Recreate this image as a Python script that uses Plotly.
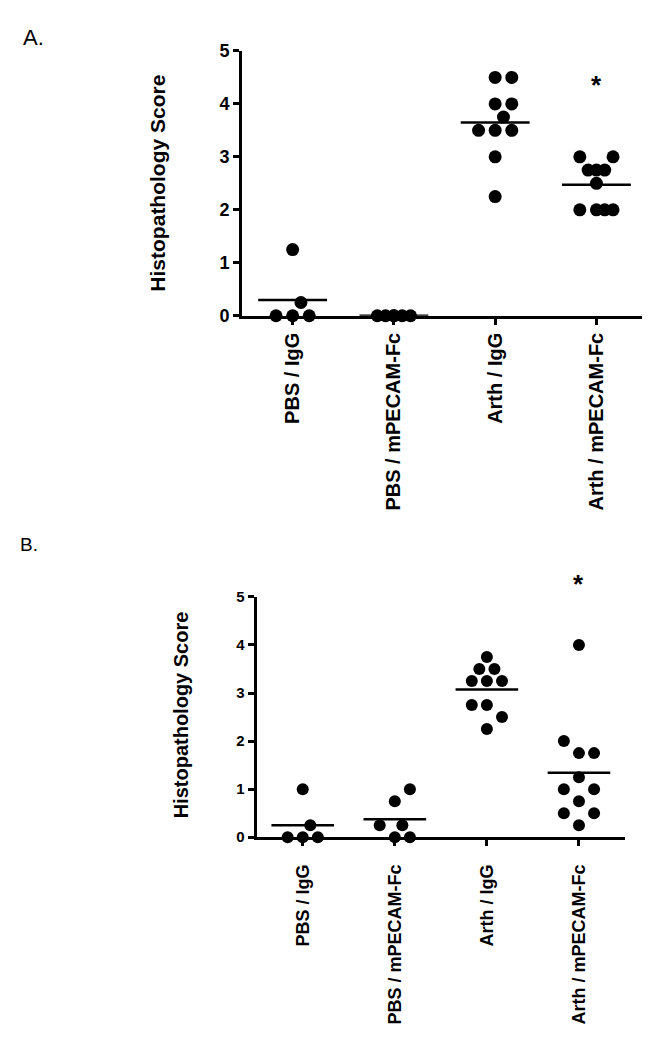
import numpy as np
import plotly.graph_objects as go

W, H = 663, 1050

groups = ["PBS / IgG", "PBS / mPECAM-Fc", "Arth / IgG", "Arth / mPECAM-Fc"]

# panel A scores
a_pbs_igg = [0, 0, 0, 0.25, 1.25]
a_pbs_pecam = [0, 0, 0, 0, 0, 0]
a_arth_igg = [2.25, 3.0, 3.5, 3.5, 3.5, 3.75, 4.0, 4.0, 4.5, 4.5]
a_arth_pecam = [2.0, 2.0, 2.0, 2.0, 2.5, 2.75, 2.75, 2.75, 3.0, 3.0]

# panel B scores
b_pbs_igg = [0, 0, 0, 0.25, 1.0]
b_pbs_pecam = [0, 0, 0.25, 0.25, 0.75, 1.0]
b_arth_igg = [2.25, 2.5, 2.75, 2.75, 3.25, 3.25, 3.25, 3.5, 3.5, 3.75]
b_arth_pecam = [0.25, 0.5, 0.5, 0.75, 1.0, 1.0, 1.25, 1.75, 1.75, 2.0, 4.0]

y_ticks = [0, 1, 2, 3, 4, 5]
star_a = 4.35

FONT = "Liberation Sans, Arial, sans-serif"


def px_box(x0, x1, y_top, y_bot):
    # pixel box -> paper domains
    return [x0 / W, x1 / W], [1 - y_bot / H, 1 - y_top / H]


def swarm(values, ppx, ppy, slot=0.082, dmin=14.5, kmax=2):
    # greedy dot placement, Prism-like
    order = [0]
    for k in range(1, kmax + 1):
        order += [k, -k]
    placed = []
    offs = []
    for v in values:
        best, best_d = order[0], -1.0
        for k in order:
            dx = k * slot * ppx
            d = min((np.hypot(dx - qx, (v - qv) * ppy) for qx, qv in placed), default=np.inf)
            if d >= dmin:
                best = k
                break
            if d > best_d:
                best_d, best = d, k
        placed.append((best * slot * ppx, v))
        offs.append(best * slot)
    return offs


fig = go.Figure()

panels = [
    dict(data=[a_pbs_igg, a_pbs_pecam, a_arth_igg, a_arth_pecam],
         box=(242, 642, 41.7, 311.7), xr=[-0.5, 3.45], xa="x", ya="y",
         tick=18, cat=20, standoff=0, dot=13),
    dict(data=[b_pbs_igg, b_pbs_pecam, b_arth_igg, b_arth_pecam],
         box=(256.7, 625, 598.3, 843.3), xr=[-0.5, 3.5], xa="x2", ya="y2",
         tick=15, cat=18, standoff=11, dot=12),
]

for i, p in enumerate(panels):
    x0, x1, yt, yb = p["box"]
    ppx = (x1 - x0) / (p["xr"][1] - p["xr"][0])
    ppy = (yb - yt) / 5.0
    for g, vals in enumerate(p["data"]):
        offs = swarm(vals, ppx, ppy)
        fig.add_trace(go.Scatter(
            x=[g + o for o in offs], y=vals, mode="markers",
            marker=dict(color="black", size=p["dot"], line=dict(width=0)),
            cliponaxis=False, xaxis=p["xa"], yaxis=p["ya"], hoverinfo="y"))
        m = float(np.mean(vals))
        fig.add_trace(go.Scatter(
            x=[g - 0.34, g + 0.34], y=[m, m], mode="lines",
            line=dict(color="black", width=2.5),
            cliponaxis=False, xaxis=p["xa"], yaxis=p["ya"], hoverinfo="skip"))

    xd, yd = px_box(x0, x1, yt, yb)
    sfx = "" if i == 0 else "2"
    fig.update_layout(**{
        "xaxis" + sfx: dict(
            domain=xd, range=p["xr"], anchor="y" + sfx,
            tickvals=list(range(len(groups))), ticktext=groups, tickangle=-90,
            showline=True, linecolor="black", linewidth=3,
            ticks="outside", ticklen=6, tickwidth=3, tickcolor="black",
            ticklabelstandoff=p["standoff"],
            tickfont=dict(family=FONT, size=p["cat"], color="black", weight="bold"),
            showgrid=False, zeroline=False),
        "yaxis" + sfx: dict(
            domain=yd, range=[0, 5], anchor="x" + sfx,
            tickvals=y_ticks,
            showline=True, linecolor="black", linewidth=3,
            ticks="outside", ticklen=6, tickwidth=3, tickcolor="black",
            tickfont=dict(family=FONT, size=p["tick"], color="black", weight="bold"),
            showgrid=False, zeroline=False),
    })

notes = [
    dict(text="A.", x=33 / W, y=1 - 28 / H, xref="paper", yref="paper",
         font=dict(family=FONT, size=22, color="black")),
    dict(text="B.", x=29 / W, y=1 - 545 / H, xref="paper", yref="paper",
         font=dict(family=FONT, size=19, color="black")),
    dict(text="Histopathology Score", x=158 / W, y=1 - 177 / H, xref="paper", yref="paper",
         textangle=-90, font=dict(family=FONT, size=21, color="black", weight="bold")),
    dict(text="Histopathology Score", x=181 / W, y=1 - 718 / H, xref="paper", yref="paper",
         textangle=-90, font=dict(family=FONT, size=20, color="black", weight="bold")),
    dict(text="*", x=3, y=star_a, xref="x", yref="y",
         font=dict(family=FONT, size=26, color="black", weight="bold")),
    # panel B star sits above the axis top, so place it in paper space
    dict(text="*", x=3, y=1 - 585 / H, xref="x2", yref="paper",
         font=dict(family=FONT, size=26, color="black", weight="bold")),
]
for n in notes:
    fig.add_annotation(showarrow=False, xanchor="center", yanchor="middle", **n)

fig.update_layout(
    width=W, height=H, margin=dict(l=0, r=0, t=0, b=0),
    paper_bgcolor="white", plot_bgcolor="white", showlegend=False,
)

fig.write_html("out.html", config={"displayModeBar": False},
               post_script="document.body.style.margin='0';")
